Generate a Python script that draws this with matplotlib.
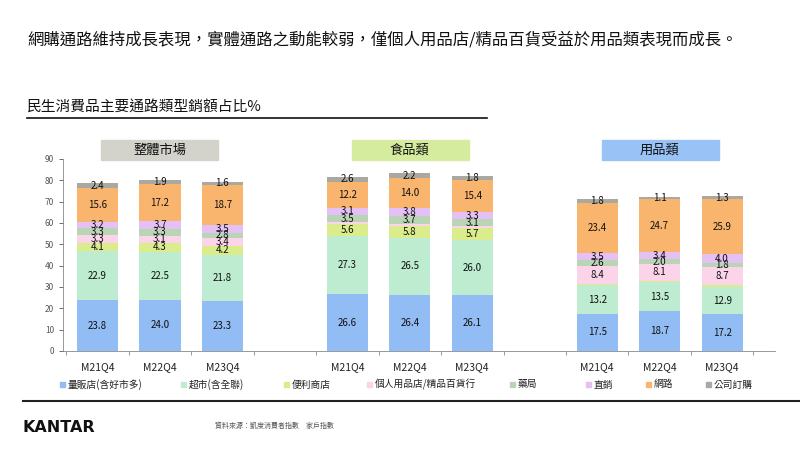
import matplotlib.pyplot as plt
import numpy as np
from matplotlib.patches import Rectangle
from matplotlib.lines import Line2D

plt.rcParams['font.family'] = ['Noto Sans CJK TC', 'DejaVu Sans']

groups = ['整體市場', '食品類', '用品類']
group_colors = ['#d3d3cc', '#d5eb9d', '#99c3f6']
periods = ['M21Q4', 'M22Q4', 'M23Q4']

channels = ['量販店(含好市多)', '超市(含全聯)', '便利商店', '個人用品店/精品百貨行',
            '藥局', '直銷', '網路', '公司訂購']
colors = ['#92bcf4', '#bdecd0', '#dbec8c', '#fbd4ea', '#b9d5b5', '#e5c0f5', '#f9b56e', '#a9a9a2']

# values per channel: 整體市場 x3, 食品類 x3, 用品類 x3
hypermarket = [23.8, 24.0, 23.3, 26.6, 26.4, 26.1, 17.5, 18.7, 17.2]
supermarket = [22.9, 22.5, 21.8, 27.3, 26.5, 26.0, 13.2, 13.5, 12.9]
convenience = [4.1, 4.3, 4.2, 5.6, 5.8, 5.7, 0.7, 0.6, 0.6]
personal = [3.3, 3.1, 3.4, 0.8, 0.8, 0.7, 8.4, 8.1, 8.7]
pharmacy = [3.3, 3.3, 2.8, 3.5, 3.7, 3.1, 2.6, 2.0, 1.8]
direct = [3.2, 3.7, 3.5, 3.1, 3.8, 3.3, 3.5, 3.4, 4.0]
online = [15.6, 17.2, 18.7, 12.2, 14.0, 15.4, 23.4, 24.7, 25.9]
corporate = [2.4, 1.9, 1.6, 2.6, 2.2, 1.8, 1.8, 1.1, 1.3]

series = [hypermarket, supermarket, convenience, personal, pharmacy, direct, online, corporate]

# bar slots: 3 per group, one empty slot between groups
x = np.array([0, 1, 2, 4, 5, 6, 8, 9, 10])

fig = plt.figure(figsize=(8, 4.5), dpi=100)
ax = fig.add_axes([0.079, 0.22, 0.89, 0.427])

bottom = np.zeros(len(x))
for vals, c in zip(series, colors):
    vals = np.array(vals)
    ax.bar(x, vals, 0.66, bottom=bottom, color=c, linewidth=0)
    for xi, b, v in zip(x, bottom, vals):
        if v >= 1:
            ax.text(xi, b + v / 2, f'{v:.1f}', ha='center', va='center',
                    fontsize=7, color='#111111')
    bottom += vals

ax.set_xlim(-0.55, 10.85)
ax.set_ylim(0, 90)
ax.set_yticks(range(0, 91, 10))
ax.tick_params(axis='y', labelsize=6, colors='#555555', length=3, width=0.6)
ax.set_xticks(x)
ax.set_xticklabels(periods * 3, fontsize=7.5, color='#222222')
ax.set_xticks(np.arange(-0.5, 11, 1), minor=True)
ax.tick_params(axis='x', which='major', length=0, pad=8)
ax.tick_params(axis='x', which='minor', length=3, width=0.6, color='#888888')
for s in ['top', 'right']:
    ax.spines[s].set_visible(False)
for s in ['left', 'bottom']:
    ax.spines[s].set_color('#888888')
    ax.spines[s].set_linewidth(0.6)

# group header boxes
for i, (g, gc) in enumerate(zip(groups, group_colors)):
    cx = x[i * 3 + 1]
    px = 97 + 62.5 * cx
    fig.patches.append(Rectangle(((px - 58) / 800, 1 - 160 / 450), 117 / 800, 20 / 450,
                                 transform=fig.transFigure, color=gc, zorder=0))
    fig.text(px / 800, 1 - 150 / 450, g, ha='center', va='center', fontsize=9.5, color='#111111')

# headline and subtitle
fig.text(27 / 800, 1 - 40 / 450, '網購通路維持成長表現，實體通路之動能較弱，僅個人用品店/精品百貨受益於用品類表現而成長。',
         fontsize=11.8, va='center', color='#111111')
fig.text(27 / 800, 1 - 108 / 450, '民生消費品主要通路類型銷額占比%', fontsize=10.6, va='center', color='#111111')
fig.add_artist(Line2D([27 / 800, 487 / 800], [1 - 118 / 450] * 2, color='#111111', lw=1.2))

# legend
leg_x = [60, 181, 284, 367, 510, 586, 646, 706]
for lx, name, c in zip(leg_x, channels, colors):
    fig.patches.append(Rectangle((lx / 800, 1 - 387 / 450), 5 / 800, 5 / 450,
                                 transform=fig.transFigure, color=c))
    fig.text((lx + 8) / 800, 1 - 384.5 / 450, name, fontsize=7, va='center', color='#222222')

# footer
fig.add_artist(Line2D([23 / 800, 1.0], [1 - 401 / 450] * 2, color='#222222', lw=1.5))
fig.text(23 / 800, 1 - 427 / 450, 'KANTAR', fontsize=11.5, fontweight='bold', va='center',
         color='#111111', family='DejaVu Sans')
fig.text(215 / 800, 1 - 426 / 450, '資料來源：凱度消費者指數　家戶指數', fontsize=5, va='center', color='#555555')

fig.savefig('out.png', dpi=100)
